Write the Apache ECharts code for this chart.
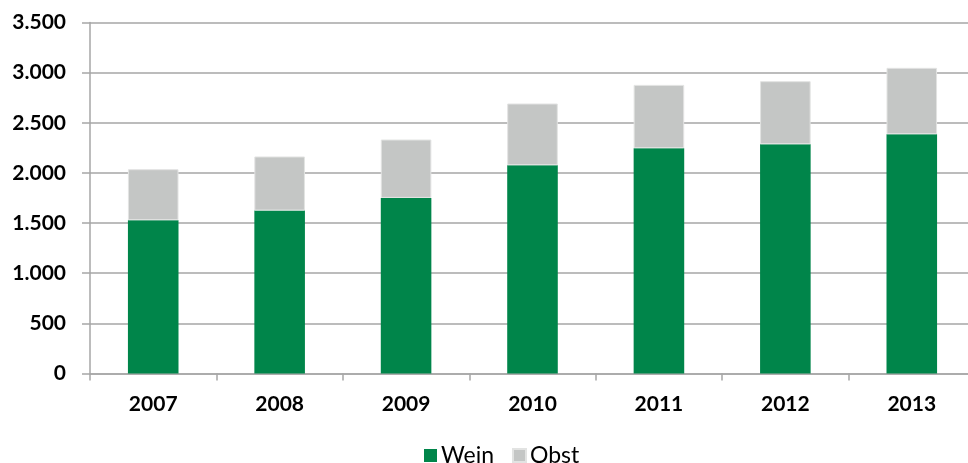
<!DOCTYPE html>
<html><head><meta charset="utf-8">
<script src="https://cdn.jsdelivr.net/npm/echarts@6/dist/echarts.min.js"></script>
<style>html,body{margin:0;padding:0;background:#fff}#c{width:968px;height:463px}</style>
</head><body><div id="c"></div>
<script>
const years = ['2007','2008','2009','2010','2011','2012','2013'];
const wein = [1529, 1625, 1751, 2077, 2247, 2286, 2386];
const obst = [508, 539, 582, 615, 631, 629, 662];
const yTicks = [0, 500, 1000, 1500, 2000, 2500, 3000, 3500];

const chart = echarts.init(document.getElementById('c'), null, {renderer:'canvas'});
const fmt = v => String(v).replace(/\B(?=(\d{3})+(?!\d))/g, '.');
chart.setOption({
  animation: false,
  backgroundColor: '#fff',
  grid: { left: 90, top: 22.5, width: 885, height: 351, containLabel: false, outerBoundsMode: 'none' },
  legend: {
    data: ['Wein','Obst'],
    top: 444, left: 424, padding: 0,
    itemWidth: 13, itemHeight: 13, itemGap: 18,
    icon: 'rect',
    textStyle: { fontFamily: 'Lato', fontSize: 23, lineHeight: 23, color: '#000', padding: [0,0,0,-1] }
  },
  xAxis: {
    type: 'category', data: years,
    axisLine: { lineStyle: { color: '#a6a6a6', width: 1.5 } },
    axisTick: { show: true, length: 7, lineStyle: { color: '#a6a6a6', width: 1.5 } },
    axisLabel: { fontFamily: 'Lato', fontWeight: 'bold', fontSize: 21, color: '#000', margin: 20 }
  },
  yAxis: {
    type: 'value', min: yTicks[0], max: yTicks[yTicks.length-1], interval: 500,
    axisLine: { show: true, lineStyle: { color: '#a6a6a6', width: 1.5 } },
    axisTick: { show: true, length: 8, lineStyle: { color: '#a6a6a6', width: 1.5 } },
    splitLine: { lineStyle: { color: '#a6a6a6', width: 1.5 } },
    axisLabel: { fontFamily: 'Lato', fontWeight: 'bold', fontSize: 21, color: '#000', margin: 24, formatter: fmt }
  },
  series: [
    { name: 'Wein', type: 'bar', stack: 't', data: wein, barWidth: '40%',
      itemStyle: { color: '#00854a' } },
    { name: 'Obst', type: 'bar', stack: 't', data: obst, barWidth: '40%',
      itemStyle: { color: '#c4c6c5', borderColor: '#e2e3e2', borderWidth: 1 } }
  ]
});
</script></body></html>
